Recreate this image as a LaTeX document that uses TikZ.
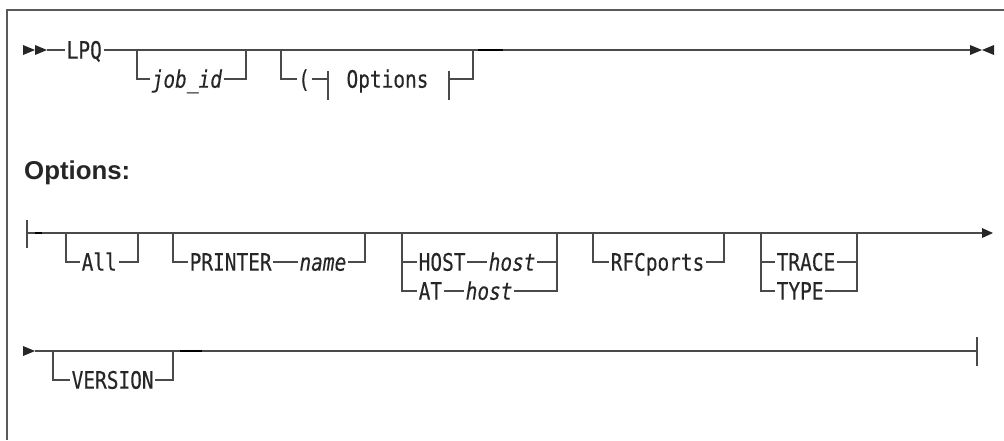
\documentclass[tikz,border=0pt]{standalone}
\usepackage{fontspec}
\newfontfamily\rrfont[FakeStretch=0.81,FakeBold=0.3]{DejaVu Sans Mono}
\newfontfamily\headfont{Liberation Sans}
\newcommand\rrf{\rrfont\fontsize{24pt}{27pt}\selectfont}
\newcommand\headf{\headfont\bfseries\fontsize{25.8pt}{30pt}\selectfont}
\definecolor{lc}{HTML}{4A4A4A}
\definecolor{tc}{HTML}{262626}
\definecolor{fc}{HTML}{5A5A5A}
\begin{document}
\begin{tikzpicture}[x=1pt,y=-1pt,
  line/.style={draw=lc, line width=1.2pt},
  frame/.style={draw=fc, line width=1.3pt},
  darkseg/.style={draw=black, line width=1.5pt},
  rr/.style={font=\rrf, text=tc, inner xsep=1.5pt, inner ysep=0pt, text height=17.4pt, text depth=0pt, anchor=west},
  rri/.style={rr, font=\rrf\itshape},
  tip/.style={fill=tc, draw=none}]
\useasboundingbox (0,0) rectangle (1004,440);
\draw[frame] (1004,10) -- (7,10) -- (7,440);

% ---------- line 1 ----------
\fill[tip] (23,45) -- (35,50) -- (23,55) -- cycle;
\fill[tip] (35,45) -- (47,50) -- (35,55) -- cycle;
\coordinate (s1) at (47,50);
\coordinate (e1) at (970,50);
\node[rr] (lpq) at (65,50) {LPQ};
\draw[line] (s1) -- (lpq.west);
\draw[line] (lpq.east) -- (e1);
\fill[tip] (970,45) -- (982,50) -- (970,55) -- cycle;
\fill[tip] (994,45) -- (982,50) -- (994,55) -- cycle;

\node[rri] (jobid) at (150,79) {job\_id};
\coordinate (j1) at (137,50);
\coordinate (j2) at (246,50);
\draw[line] (j1) |- (jobid.west);
\draw[line] (jobid.east) -| (j2);

\coordinate (g1) at (281,50);
\coordinate (g2) at (473,50);
\node[rr] (lp) at (296.5,79) {(};
\coordinate (b1t) at (328,71);
\coordinate (b1b) at (328,100);
\coordinate (b2t) at (449,71);
\coordinate (b2b) at (449,100);
\node[rr, anchor=center] (opt) at (387.5,79) {Options};
\draw[line] (g1) |- (lp.west);
\draw[line] (lp.east) -- (lp.east -| b1t);
\draw[line] (b1t) -- (b1b);
\draw[line] (b2t) -- (b2b);
\draw[line] (b2t |- opt) -| (g2);
\draw[darkseg] (478,50) -- (503,50);

% ---------- heading ----------
\node[font=\headf, text=tc, anchor=base west, inner sep=0pt] (head) at (24,179) {Options:};

% ---------- line 2 ----------
\coordinate (s2t) at (27,220);
\coordinate (s2b) at (27,248);
\coordinate (s2) at (27,233);
\coordinate (e2) at (982,233);
\draw[line] (s2t) -- (s2b);
\draw[line] (s2) -- (e2);
\fill[tip] (982,228) -- (993,233) -- (982,238) -- cycle;
\draw[darkseg] (35,233) -- (42,233);

\node[rr] (all) at (80,262) {All};
\coordinate (a1) at (66,233);
\coordinate (a2) at (138,233);
\draw[line] (a1) |- (all.west);
\draw[line] (all.east) -| (a2);

\node[rr] (printer) at (188,262) {PRINTER};
\node[rri, anchor=east] (name) at (348,262) {name};
\coordinate (p1) at (173,233);
\coordinate (p2) at (365,233);
\draw[line] (p1) |- (printer.west);
\draw[line] (printer.east) -- (name.west);
\draw[line] (name.east) -| (p2);

\node[rr] (hostkw) at (417,262) {HOST};
\node[rri] (host1) at (487,262) {host};
\node[rr] (at) at (417,291) {AT};
\node[rri] (host2) at (464,291) {host};
\coordinate (h1) at (402,233);
\coordinate (h2) at (557,233);
\draw[line] (h1) |- (at.west);
\draw[line] (hostkw.west -| h1) -- (hostkw.west);
\draw[line] (hostkw.east) -- (host1.west);
\draw[line] (at.east) -- (host2.west);
\draw[line] (host2.east) -| (h2);
\draw[line] (host1.east) -- (host1.east -| h2);

\node[rr] (rfc) at (609,262) {RFCports};
\coordinate (r1) at (593,233);
\coordinate (r2) at (724,233);
\draw[line] (r1) |- (rfc.west);
\draw[line] (rfc.east) -| (r2);

\node[rr] (trace) at (775,262) {TRACE};
\node[rr] (type) at (775,291) {TYPE};
\coordinate (t1) at (761,233);
\coordinate (t2) at (857,233);
\draw[line] (t1) |- (type.west);
\draw[line] (trace.west -| t1) -- (trace.west);
\draw[line] (type.east) -| (t2);
\draw[line] (trace.east) -- (trace.east -| t2);

% ---------- line 3 ----------
\fill[tip] (23,346) -- (35,351) -- (23,356) -- cycle;
\coordinate (s3) at (35,351);
\coordinate (e3) at (977,351);
\draw[line] (s3) -- (e3);
\draw[line] (977,337) -- (977,366);

\node[rr] (version) at (70,380) {VERSION};
\coordinate (v1) at (53,351);
\coordinate (v2) at (173,351);
\draw[line] (v1) |- (version.west);
\draw[line] (version.east) -| (v2);
\draw[darkseg] (180,351) -- (202,351);
\end{tikzpicture}
\end{document}
